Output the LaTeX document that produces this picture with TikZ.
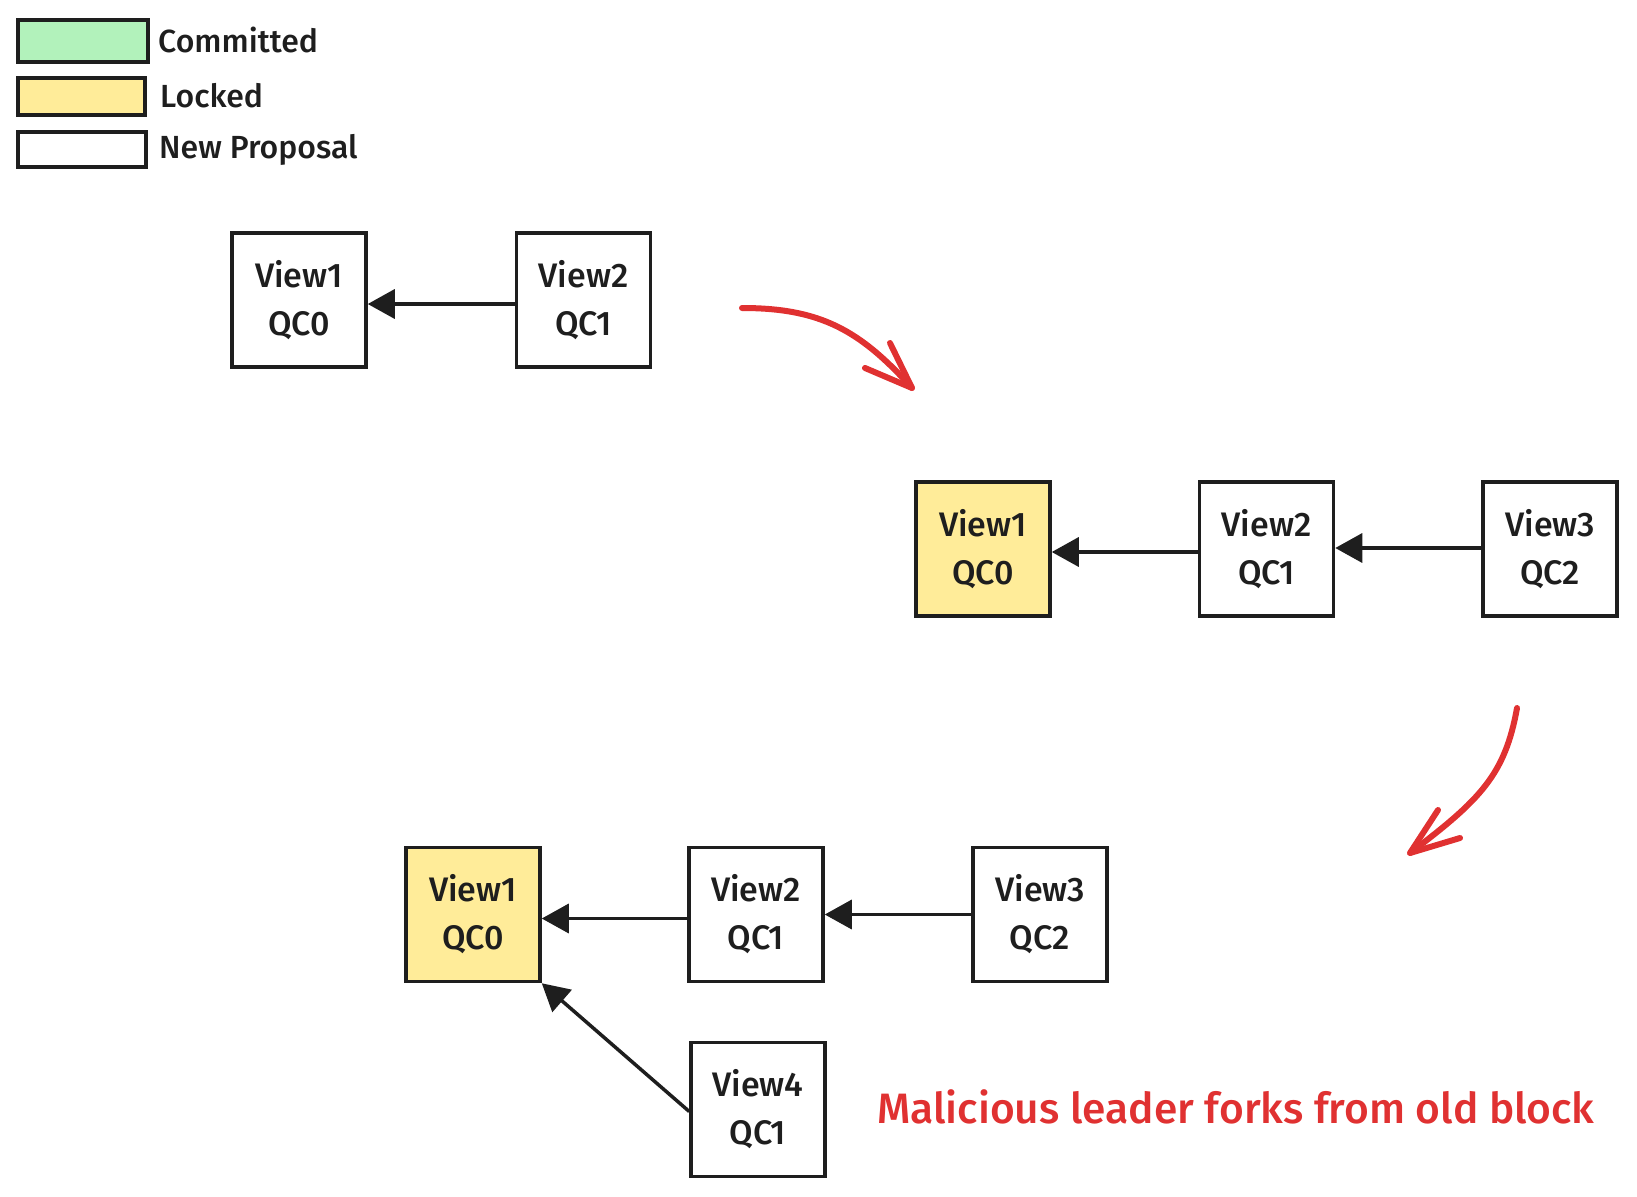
\documentclass[tikz,border=0pt]{standalone}
\usepackage{fontspec}
\setmainfont{Fira Sans Medium}
\usetikzlibrary{arrows.meta}
\definecolor{ink}{HTML}{1E1E1E}
\definecolor{lockY}{HTML}{FFEC99}
\definecolor{commitG}{HTML}{B2F2BB}
\definecolor{redink}{HTML}{E03131}
\tikzset{
  blk/.style={draw=ink, line width=3.5pt, minimum width=134pt, minimum height=134pt, fill=white,
    align=center, font=\fontsize{34}{48}\selectfont, text=ink, inner sep=0pt},
  locked/.style={blk, fill=lockY},
  lg/.style={draw=ink, line width=3.5pt},
  lgtext/.style={anchor=west, font=\fontsize{32}{36}\selectfont, text=ink, inner sep=0pt},
  link/.style={draw=ink, line width=3.5pt, -{Triangle[length=27pt,width=29pt]}},
  redarrow/.style={draw=redink, line width=6pt, line cap=round, line join=round},
}
\begin{document}
\begin{tikzpicture}[x=1pt,y=-1pt]
\useasboundingbox (0,0) rectangle (1637,1196);
% legend
\node[lg, fill=commitG, minimum width=130pt, minimum height=42pt, inner sep=0pt] (lg1) at (83,41) {};
\node[lg, fill=lockY, minimum width=127pt, minimum height=37pt, inner sep=0pt] (lg2) at (81.5,96.5) {};
\node[lg, fill=white, minimum width=128pt, minimum height=35pt, inner sep=0pt] (lg3) at (82,149.5) {};
\node[lgtext] (t1) at (158,40) {Committed};
\node[lgtext] (t2) at (160,96) {Locked};
\node[lgtext] (t3) at (159,150) {New Proposal};
% top row
\node[blk] (a1) at (299,300) {View1\\QC0};
\node[blk] (a2) at (583.5,300) {View2\\QC1};
\draw[link] ([yshift=-4pt]a2.west) -- ([yshift=-4pt]a1.east);
% middle row
\node[locked] (m1) at (983,549) {View1\\QC0};
\node[blk] (m2) at (1266.5,549) {View2\\QC1};
\node[blk] (m3) at (1550,549) {View3\\QC2};
\draw[link] ([yshift=-3pt]m2.west) -- ([yshift=-3pt]m1.east);
\draw[link] ([yshift=1pt]m3.west) -- ([yshift=1pt]m2.east);
% bottom row
\node[locked] (b1) at (473,914.5) {View1\\QC0};
\node[blk] (b2) at (756,914.5) {View2\\QC1};
\node[blk] (b3) at (1040,914.5) {View3\\QC2};
\node[blk] (b4) at (758,1109.5) {View4\\QC1};
\draw[link] ([yshift=-4pt]b2.west) -- ([yshift=-4pt]b1.east);
\draw[link] (b3) -- (b2);
\draw[link] ([yshift=-2pt]b4.west) -- (b1.south east);
% red note
\node[anchor=west, text=redink, font=\fontsize{42.5}{46}\selectfont, inner sep=0pt] (note) at (877,1107) {Malicious leader forks from old block};
% red arrows
\coordinate (r1s) at (742,308);
\coordinate (r1t) at (912,388);
\coordinate (r1a) at (890,343);
\coordinate (r1b) at (865,368);
\draw[redarrow] (r1s) .. controls (820,308) and (860,330) .. (r1t);
\draw[redarrow] (r1a) -- (r1t) -- (r1b);
\coordinate (r2s) at (1517,708);
\coordinate (r2t) at (1410,853);
\coordinate (r2a) at (1438,810);
\coordinate (r2b) at (1460,838);
\draw[redarrow] (r2s) .. controls (1505,775) and (1480,800) .. (r2t);
\draw[redarrow] (r2a) -- (r2t) -- (r2b);
\end{tikzpicture}
\end{document}
